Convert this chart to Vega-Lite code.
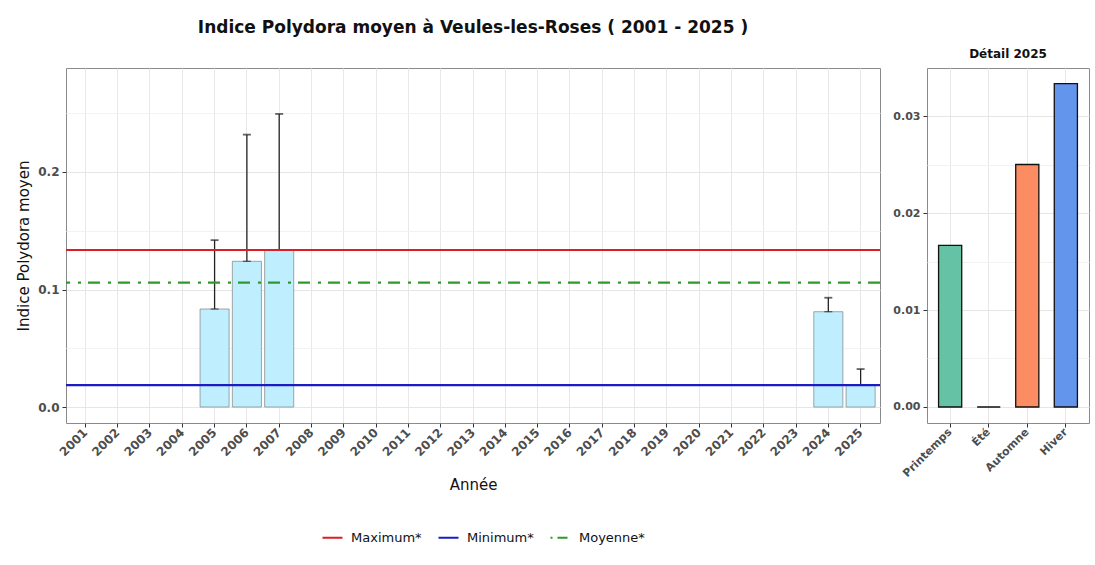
{
  "$schema": "https://vega.github.io/schema/vega-lite/v6.json",
  "background": "white",
  "padding": {"left": 16, "top": 18, "right": 4, "bottom": 4},
  "spacing": 10,
  "datasets": {
    "annuel": [
      {"annee": "2005", "moyenne": 0.0834, "haut": 0.142},
      {"annee": "2006", "moyenne": 0.124, "haut": 0.2318},
      {"annee": "2007", "moyenne": 0.1333, "haut": 0.2494},
      {"annee": "2024", "moyenne": 0.0811, "haut": 0.093},
      {"annee": "2025", "moyenne": 0.01875, "haut": 0.0323}
    ],
    "lignes": [
      {"ligne": "Maximum*", "valeur": 0.1336},
      {"ligne": "Minimum*", "valeur": 0.0187},
      {"ligne": "Moyenne*", "valeur": 0.1058}
    ],
    "saisons": [
      {"saison": "Printemps", "indice": 0.01667},
      {"saison": "Été", "indice": 0},
      {"saison": "Automne", "indice": 0.025},
      {"saison": "Hiver", "indice": 0.03333}
    ]
  },
  "hconcat": [
    {
      "width": 814,
      "height": 355,
      "title": {"text": "Indice Polydora moyen à Veules-les-Roses ( 2001 - 2025 )", "fontSize": 17, "fontWeight": "bold", "anchor": "middle", "offset": 31},
      "encoding": {
        "x": {
          "field": "annee", "type": "ordinal",
          "scale": {"domain": ["2001","2002","2003","2004","2005","2006","2007","2008","2009","2010","2011","2012","2013","2014","2015","2016","2017","2018","2019","2020","2021","2022","2023","2024","2025"], "paddingInner": 0.1, "paddingOuter": 0.15},
          "axis": {"title": "Année", "labelAngle": -45, "labelAlign": "right", "labelBaseline": "middle", "labelFontSize": 12, "titlePadding": 20, "grid": true, "bandPosition": 0.5}
        }
      },
      "layer": [
        {
          "data": {"name": "annuel"},
          "mark": {"type": "bar", "fill": "#BFEFFF", "stroke": "#7f7f7f", "strokeWidth": 0.7},
          "encoding": {
            "y": {
              "field": "moyenne", "type": "quantitative",
              "scale": {"domain": [-0.0136, 0.2885], "nice": false, "zero": false},
              "axis": {
                "title": "Indice Polydora moyen", "titleFontSize": 15, "titlePadding": 6,
                "values": [0, 0.05, 0.1, 0.15, 0.2, 0.25],
                "labelExpr": "(round(datum.value*100) % 10 == 0) ? format(datum.value, '.1f') : ''",
                "tickOpacity": {"condition": {"test": "round(datum.value*100) % 10 == 0", "value": 1}, "value": 0},
                "gridColor": {"condition": {"test": "round(datum.value*100) % 10 == 0", "value": "#e6e6e6"}, "value": "#f2f2f2"}
              }
            }
          }
        },
        {
          "data": {"name": "annuel"},
          "mark": {"type": "rule", "color": "#222222", "strokeWidth": 1.3},
          "encoding": {
            "y": {"field": "moyenne", "type": "quantitative"},
            "y2": {"field": "haut"}
          }
        },
        {
          "data": {"name": "annuel"},
          "mark": {"type": "tick", "color": "#222222", "thickness": 1.8, "size": 8},
          "encoding": {"y": {"field": "haut", "type": "quantitative"}}
        },
        {
          "data": {"name": "annuel"},
          "mark": {"type": "tick", "color": "#222222", "thickness": 1.2, "size": 8},
          "encoding": {"y": {"field": "moyenne", "type": "quantitative"}}
        },
        {
          "data": {"name": "lignes"},
          "mark": {"type": "rule", "strokeWidth": 2.2},
          "encoding": {
            "x": null,
            "y": {"field": "valeur", "type": "quantitative"},
            "color": {
              "field": "ligne", "type": "nominal",
              "scale": {"domain": ["Maximum*", "Minimum*", "Moyenne*"], "range": ["#dc1f26", "#1c1cc4", "#2e9a2e"]},
              "legend": {
                "title": null, "orient": "none", "direction": "horizontal", "legendX": 255, "legendY": 458,
                "symbolType": "stroke", "symbolSize": 400, "symbolStrokeWidth": 2.2,
                "labelFontSize": 13, "labelFontWeight": "normal", "labelColor": "#111111", "columnPadding": 12, "labelOffset": 7,
                "encode": {"symbols": {"update": {"strokeDash": {"signal": "datum.value == 'Moyenne*' ? [2, 5, 10, 5] : [1, 0]"}}}}
              }
            },
            "strokeDash": {
              "field": "ligne", "type": "nominal",
              "scale": {"domain": ["Maximum*", "Minimum*", "Moyenne*"], "range": [[1, 0], [1, 0], [12, 7, 3, 8]]},
              "legend": null
            }
          }
        }
      ]
    },
    {
      "width": 162,
      "height": 355,
      "title": {"text": "Détail 2025", "fontSize": 12, "fontWeight": "bold", "anchor": "middle", "offset": 7},
      "data": {"name": "saisons"},
      "mark": {"type": "bar", "stroke": "#111111", "strokeWidth": 1.3},
      "encoding": {
        "x": {
          "field": "saison", "type": "nominal", "sort": ["Printemps", "Été", "Automne", "Hiver"],
          "scale": {"paddingInner": 0.4, "paddingOuter": 0.3},
          "axis": {"title": null, "labelAngle": -45, "labelAlign": "right", "labelBaseline": "middle", "labelFontSize": 11, "grid": true, "bandPosition": 0.5}
        },
        "y": {
          "field": "indice", "type": "quantitative",
          "scale": {"domain": [-0.00165, 0.03495], "nice": false, "zero": false},
          "axis": {
            "title": null,
            "values": [0, 0.005, 0.01, 0.015, 0.02, 0.025, 0.03],
            "labelExpr": "(round(datum.value*1000) % 10 == 0) ? format(datum.value, '.2f') : ''",
            "labelFontSize": 11,
            "tickOpacity": {"condition": {"test": "round(datum.value*1000) % 10 == 0", "value": 1}, "value": 0},
            "gridColor": {"condition": {"test": "round(datum.value*1000) % 10 == 0", "value": "#e6e6e6"}, "value": "#f2f2f2"}
          }
        },
        "fill": {
          "field": "saison", "type": "nominal",
          "scale": {"domain": ["Printemps", "Été", "Automne", "Hiver"], "range": ["#66C2A5", "#FFD92F", "#FC8D62", "#6495ED"]},
          "legend": null
        }
      }
    }
  ],
  "resolve": {"scale": {"color": "independent", "y": "independent", "x": "independent"}},
  "config": {
    "font": "DejaVu Sans",
    "view": {"stroke": "#8a8a8a", "strokeWidth": 1},
    "axis": {
      "domain": false,
      "labelColor": "#4d4d4d",
      "labelFontWeight": "bold",
      "labelFontSize": 12,
      "labelPadding": 3,
      "tickColor": "#333333",
      "tickSize": 4,
      "gridColor": "#e8e8e8",
      "titleFontWeight": "normal",
      "titleFontSize": 15,
      "titleColor": "#111111"
    },
    "legend": {"labelFont": "DejaVu Sans"},
    "title": {"color": "#111111", "font": "DejaVu Sans"}
  }
}
